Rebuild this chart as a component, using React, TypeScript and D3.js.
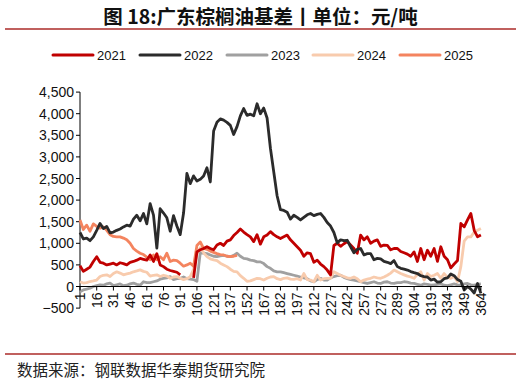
import React from "react";
import * as d3 from "d3";

const WIDTH = 521;
const HEIGHT = 383;

// trading-day numbers on the category axis (days 125, 278, 279 absent)
const SKIPPED_DAYS = [125, 278, 279];
const CATEGORIES: string[] = d3.range(1, 366).filter((d) => !SKIPPED_DAYS.includes(d)).map(String);
const TICK_LABELS = ["1", "16", "31", "46", "61", "76", "91", "106", "121", "137", "152", "167", "182", "197", "212", "227", "242", "257", "272", "289", "304", "319", "334", "349", "364"];
const Y_TICKS = [-500, 0, 500, 1000, 1500, 2000, 2500, 3000, 3500, 4000, 4500];
const STEP = 3; // each value below is read every 3rd category

const S2021: (number | null)[] = [
  480, 350, 400, 450, 580, 690, 560, 540, 500, 520, 540, 500, 550, 530, 500, 560, 580, 610, 650, 630,
  610, 730, 580, 760, 500, 460, 400, 370, 350, 330, 270, null, null, null, 200, 800, 850, 880, 920, 880,
  850, 960, 1000, 950, 1050, 1080, 1180, 1250, 1330, 1260, 1200, 1150, 1040, 1200, 980, 1150, 1190, 1270, 1200, 1150,
  1110, 1150, 1190, 1080, 1000, 920, 840, 700, 780, 760, 560, 610, 520, 460, 380, 270, 950, 1000, 930, 990,
  1040, 960, 880, 770, 1190, 1080, 1150, 1000, 1050, 1080, 930, 960, 950, 850, 880, 880, 810, 780, 750, 700,
  800, 580, 880, 620, 840, 700, 880, 580, 920, 700, 620, 430, 520, 600, 1460, 1380, 1540, 1690, 1300, 1150,
  1190,
];
const S2022: (number | null)[] = [
  1250, 1100, 1120, 1060, 1150, 1300, 1460, 1340, 1390, 1240, 1260, 1300, 1330, 1380, 1420, 1400, 1560, 1650, 1520, 1690,
  1450, 1920, 1650, 890, 1800, 1700, 1590, 1280, 1640, 1400, 1200, 1700, 2620, 2380, 2560, 2440, 2480, 2560, 2750, 2420,
  3600, 3800, 3880, 3850, 3800, 3730, 3520, 3700, 3950, 4120, 3960, 3990, 3950, 4230, 4000, 4130, 3900, 3200, 2650, 2100,
  1780, 1760, 1720, 1560, 1650, 1600, 1540, 1600, 1660, 1690, 1640, 1670, 1690, 1600, 1480, 1400, 1250, 1010, 1080, 1060,
  1070, 920, 780, 860, 880, 730, 760, 760, 620, 650, 640, 580, 560, 530, 600, 460, 420, 400, 380, 345,
  320, 300, 250, 230, 220, 150, 170, 100, 110, 180, 200, 290, 250, 160, 120, -80, 0, -60, -150, 70,
  -160,
];
const S2023: (number | null)[] = [
  -120, -80, -60, -40, 0, 20, 40, 30, 60, 80, 20, 40, 60, 20, 30, 60, 80, 50, 30, 110,
  90, 90, 110, 130, 170, 190, 200, 230, 160, 180, 190, 220, 180, 170, 160, 120, 780, 770, 760, 730,
  700, 690, 710, 720, 700, 690, 720, 770, 700, 650, 640, 610, 600, 570, 570, 530, 460, 420, 360, 340,
  340, 320, 300, 280, 260, 240, 220, 200, 180, 130, 110, 160, 190, 150, 150, 200, 230, 250, 260, 210,
  180, 160, 150, 130, 110, 90, 70, 90, 110, 80, 70, 100, 110, 80, 70, 90, 90, 110, 100, 80,
  70, 50, 30, 60, 50, 30, 40, 50, 60, 30, 20, 40, 60, 40, 30, 60, 70, 40, 30, 50,
  60,
];
const S2024: (number | null)[] = [
  110, 80, 90, 115, 130, 150, 230, 260, 270, 230, 300, 340, 310, 270, 290, 310, 340, 360, 385, 350,
  330, 240, 260, 270, 230, 260, 240, 190, 220, 230, 190, 160, 180, 230, 400, 750, 900, 780, 690, 640,
  615, 600, 540, 500, 460, 400, 350, 340, 250, 190, 120, 130, 160, 190, 180, 150, 190, 220, 230, 180,
  160, 190, 200, 170, 165, 180, 150, 300, 160, 150, 110, 260, 150, 180, 190, 190, 340, 300, 260, 230,
  200, 190, 220, 180, 110, 150, 170, 190, 220, 200, 190, 220, 260, 310, 380, 340, 300, 270, 240, 220,
  190, 280, 340, 150, 300, 230, 260, 300, 190, 300, 210, 190, 230, 110, 460, 1050, 1150, 1150, 1260, 1300,
  1340,
];
const S2025: (number | null)[] = [
  1540, 1320, 1420, 1280, 1450, 1390, 1350, 1380, 1300, 1200, 1160, 1150, 1150, 1120, 1080, 1000, 880, 820, 770, 740,
  680, 620, 730, 620, 690, 620, 770, 580, 610, 600, 540, 470, 500, 540, 470, 950, 1030, 880, 860, 820,
  790, 760, 740, 730, 700, 690, 700, 720,
];

const SERIES_NAMES = ["2021", "2022", "2023", "2024", "2025"];
const SERIES_VALUES = [S2021, S2022, S2023, S2024, S2025];
const COLORS = ["#C00000", "#2B2B2B", "#A0A0A0", "#F8CBAD", "#F4845F"];

const FONT = "'Liberation Sans', Arial, sans-serif";
const CJK = "'Noto Sans CJK SC', sans-serif";

export default function App() {
  const left = 80;
  const right = 482;
  const top = 92.1;
  const bottom = 308.1;

  const x = d3.scalePoint<string>().domain(CATEGORIES).range([left, right]);
  const y = d3.scaleLinear().domain([-500, 4500]).range([bottom, top]);
  const y0 = y(0);

  const line = d3
    .line<[number, number | null]>()
    .defined((d) => d[1] !== null)
    .x((d) => x(CATEGORIES[d[0] * STEP]) as number)
    .y((d) => y(d[1] as number));

  // drawing order: lighter years first, key years on top
  const order = [2, 3, 4, 0, 1];

  const legendX = [53, 140, 227, 313, 400];

  return (
    <svg
      width={WIDTH}
      height={HEIGHT}
      style={{ position: "absolute", left: 0, top: 0, background: "#fff" }}
    >
      <text
        x={260.5}
        y={24}
        textAnchor="middle"
        fontFamily={CJK}
        fontWeight="bold"
        fontSize={19.5}
        fill="#111"
      >
        图 18:广东棕榈油基差丨单位：元/吨
      </text>
      <line x1={5} x2={516} y1={29} y2={29} stroke="#C0605E" strokeWidth={2} />

      {SERIES_NAMES.map((name, i) => (
        <g key={name}>
          <line
            x1={legendX[i]}
            x2={legendX[i] + 40}
            y1={55}
            y2={55}
            stroke={COLORS[i]}
            strokeWidth={3}
            strokeLinecap="round"
          />
          <text x={legendX[i] + 44} y={59.5} fontFamily={FONT} fontSize={13} fill="#111">
            {name}
          </text>
        </g>
      ))}

      {/* y axis */}
      <line x1={left} x2={left} y1={top} y2={bottom} stroke="#000" strokeWidth={1} />
      {Y_TICKS.map((t) => (
        <g key={t}>
          <line x1={left - 4} x2={left} y1={y(t)} y2={y(t)} stroke="#000" />
          <text
            x={left - 6}
            y={y(t) + 5}
            textAnchor="end"
            fontFamily={FONT}
            fontSize={14}
            fill="#111"
          >
            {d3.format(",")(t)}
          </text>
        </g>
      ))}

      {/* series */}
      {order.map((i) => (
        <path
          key={SERIES_NAMES[i]}
          d={line(SERIES_VALUES[i].map((v, k) => [k, v] as [number, number | null])) || ""}
          fill="none"
          stroke={COLORS[i]}
          strokeWidth={2.8}
          strokeLinejoin="round"
        />
      ))}

      {/* x axis at zero */}
      <line x1={left} x2={right} y1={y0} y2={y0} stroke="#000" strokeWidth={1} />
      {TICK_LABELS.map((t) => {
        const xx = x(t) as number;
        return (
          <g key={t}>
            <line x1={xx} x2={xx} y1={y0} y2={y0 + 4} stroke="#000" />
            <text
              transform={`translate(${xx + 5},${y0 + 6}) rotate(-90)`}
              textAnchor="end"
              fontFamily={FONT}
              fontSize={14}
              fill="#111"
            >
              {t}
            </text>
          </g>
        );
      })}

      <line x1={5} x2={516} y1={354} y2={354} stroke="#C0605E" strokeWidth={2} />
      <text x={17} y={376} fontFamily={CJK} fontSize={15.5} fill="#222">
        数据来源：钢联数据华泰期货研究院
      </text>
    </svg>
  );
}
